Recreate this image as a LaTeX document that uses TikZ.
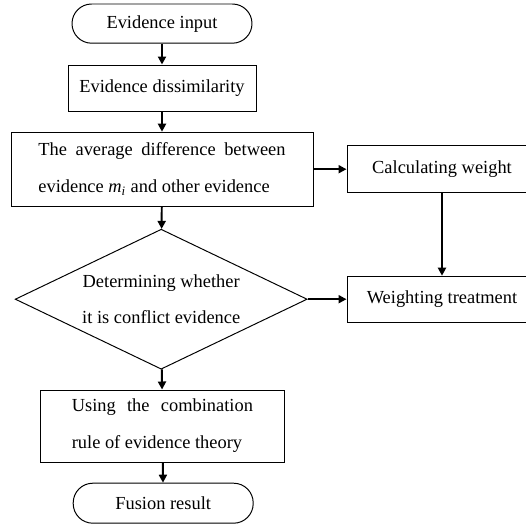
\documentclass[tikz,border=0pt]{standalone}
\usepackage{fontspec}
\setmainfont{Liberation Serif}
\usetikzlibrary{arrows.meta,shapes.geometric}
\tikzset{
  box/.style={draw, line width=0.7pt, align=center, inner sep=0pt, font=\fontsize{13.1}{26.3}\selectfont},
  kterm/.style={box, rounded corners=0.49cm},
  kproc/.style={box},
  kjust/.style={box, align=justify},
  kdecide/.style={box, diamond, aspect=2.08},
  flow/.style={-{Triangle[length=2mm, width=2mm]}, line width=1.4pt},
}

\begin{document}
\begin{tikzpicture}
    \useasboundingbox (0,0) rectangle (13.15,-13.125);
    \clip (0,0) rectangle (13.15,-13.125);
    \node[kterm, minimum width=4.50cm, minimum height=0.98cm] (input) at (4.05,-0.59) {Evidence input};
    \node[kproc, minimum width=4.70cm, minimum height=1.15cm] (dissim) at (4.05,-2.20) {Evidence dissimilarity};
    \node[kjust, text width=6.18cm, minimum width=7.55cm, minimum height=1.85cm] (avgdiff) at (4.05,-4.23)
      {The average difference between\linebreak evidence \textit{m}\textsubscript{\textit{i}} and other evidence};
    \node[kproc, minimum width=4.75cm, minimum height=1.18cm] (calcw) at (11.05,-4.23) {Calculating weight};
    \node[kdecide, minimum width=7.30cm, minimum height=3.50cm] (conflict) at (4.03,-7.48) {Determining whether\\it is conflict evidence};
    \node[kproc, minimum width=4.75cm, minimum height=1.15cm] (weighting) at (11.05,-7.48) {Weighting treatment};
    \node[kjust, text width=4.53cm, minimum width=6.08cm, minimum height=1.80cm] (combine) at (4.06,-10.65)
      {Using the combination\linebreak rule of evidence theory};
    \node[kterm, minimum width=4.50cm, minimum height=1.00cm] (fusion) at (4.08,-12.58) {Fusion result};
    \draw[flow] (input) -- (dissim);
    \draw[flow] (dissim) -- (avgdiff);
    \draw[flow] (avgdiff) -- (conflict);
    \draw[flow] (avgdiff) -- (calcw);
    \draw[flow] (calcw) -- (weighting);
    \draw[flow] (conflict) -- (weighting);
    \draw[flow] (conflict) -- (combine);
    \draw[flow] (combine) -- (fusion);
  \end{tikzpicture}
\end{document}
